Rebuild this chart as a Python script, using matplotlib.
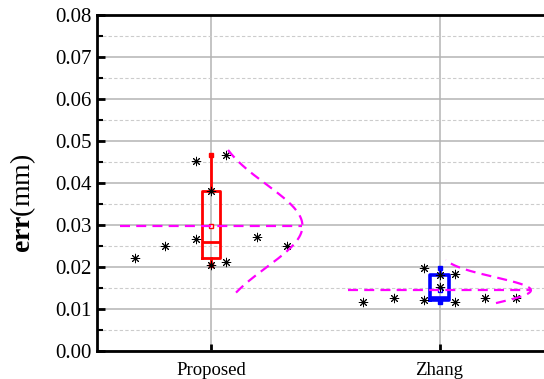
import numpy as np
import matplotlib
matplotlib.use("Agg")
import matplotlib.pyplot as plt
from matplotlib.ticker import MultipleLocator, FormatStrFormatter

# values
categories = ["Proposed", "Zhang"]
proposed_err = [0.0222, 0.0251, 0.0267, 0.0452, 0.0381, 0.0205, 0.0468, 0.0212, 0.0271, 0.0250]
zhang_err = [0.0116, 0.0127, 0.0197, 0.0121, 0.0181, 0.0152, 0.0183, 0.0117, 0.0127, 0.0125]
# horizontal spread of the points around each category (Origin bin layout)
point_offsets = [-0.333, -0.2, -0.067, -0.067, 0.0, 0.0, 0.067, 0.067, 0.2, 0.333]
# y range covered by each normal curve
curve_ranges = [(0.0139, 0.0490), (0.0114, 0.0217)]
box_colors = ["#ff0000", "#0000ff"]
box_lws = [2.0, 2.6]

plt.rcParams["font.family"] = ["Liberation Serif", "DejaVu Serif"]
plt.rcParams["mathtext.fontset"] = "custom"
plt.rcParams["mathtext.rm"] = "Liberation Serif"
plt.rcParams["mathtext.bf"] = "Liberation Serif:bold"

fig = plt.figure(figsize=(5.44, 3.79), dpi=100)
ax = fig.add_axes([0.178, 0.074, 0.840, 0.886])

all_data = [proposed_err, zhang_err]
positions = [1, 2]
curve_width = 0.4

for pos, data, color, lw, (lo, hi) in zip(positions, all_data, box_colors, box_lws, curve_ranges):
    arr = np.array(data)
    stats = [{
        "med": np.median(arr),
        "q1": np.percentile(arr, 25, method="inverted_cdf"),
        "q3": np.percentile(arr, 75, method="inverted_cdf"),
        "whislo": arr.min(),
        "whishi": arr.max(),
        "mean": arr.mean(),
        "fliers": [],
    }]
    ax.bxp(
        stats, positions=[pos], widths=0.08, showmeans=True, showcaps=False,
        boxprops=dict(color=color, linewidth=lw),
        whiskerprops=dict(color=color, linewidth=2),
        medianprops=dict(color=color, linewidth=lw),
        meanprops=dict(marker="s", markersize=3.5, markerfacecolor="white",
                       markeredgecolor=color, markeredgewidth=1),
        zorder=3,
    )
    ax.plot([pos, pos], [arr.min(), arr.max()], linestyle="none", marker="s",
            markersize=3.5, color=color, zorder=4)

    # black asterisk data points
    ax.scatter(pos + np.array(point_offsets), arr, marker=(8, 2, 0), s=38,
               color="black", linewidths=0.7, zorder=5)

    # normal distribution curve on the right side
    mean, std = arr.mean(), arr.std(ddof=1)
    yy = np.linspace(lo, hi, 200)
    xx = pos + curve_width * np.exp(-0.5 * ((yy - mean) / std) ** 2)
    ax.plot(xx, yy, color="#ff00ff", linewidth=1.6, linestyle=(0, (4.5, 2.8)), zorder=6)
    ax.plot([pos - curve_width, pos + curve_width], [mean, mean], color="#ff00ff",
            linewidth=1.6, linestyle=(0, (4.5, 2.8)), zorder=6)

ax.set_xlim(0.5, 2.5)
ax.set_ylim(0, 0.08)
ax.set_xticks(positions)
ax.set_xticklabels(categories, fontsize=13.5)
ax.yaxis.set_major_locator(MultipleLocator(0.01))
ax.yaxis.set_minor_locator(MultipleLocator(0.005))
ax.yaxis.set_major_formatter(FormatStrFormatter("%.2f"))
ax.tick_params(axis="y", labelsize=15, direction="in", length=6, width=2)
ax.tick_params(axis="y", which="minor", direction="in", length=4, width=1.5)
ax.tick_params(axis="x", direction="in", length=5, width=2, pad=8)

ax.grid(True, which="major", axis="both", color="#b4b4b4", linewidth=1.1, zorder=0)
ax.grid(True, which="minor", axis="y", color="#cccccc", linewidth=0.8,
        linestyle=(0, (3, 2)), zorder=0)
ax.set_axisbelow(True)

for side in ["left", "top", "bottom", "right"]:
    ax.spines[side].set_linewidth(2)

ax.set_ylabel(r"$\mathbf{err}$(mm)", fontsize=20)
ax.yaxis.set_label_coords(-0.128, 0.44)

fig.savefig("out.png", dpi=100)
